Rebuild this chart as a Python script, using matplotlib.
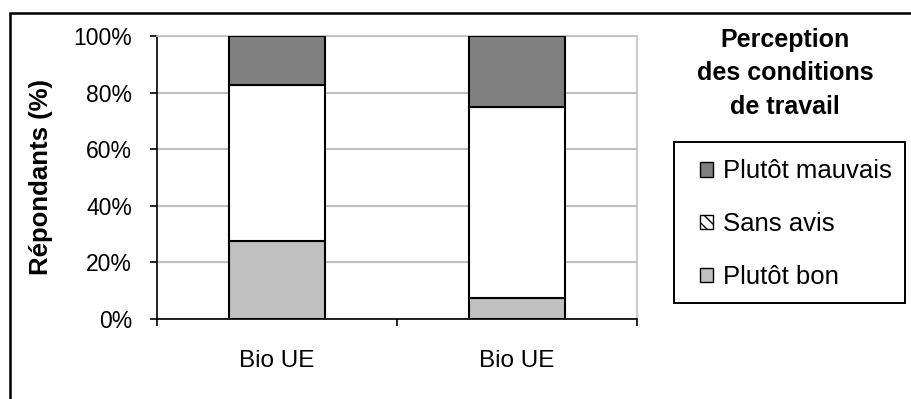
import matplotlib
matplotlib.use("Agg")
import matplotlib.pyplot as plt
from matplotlib.patches import Patch, Rectangle
import numpy as np

plt.rcParams['font.family'] = ['Liberation Sans', 'DejaVu Sans']

categories = ["Bio UE", "Bio UE"]
series_names = ["Plutôt bon", "Sans avis", "Plutôt mauvais"]
plutot_bon = [27.5, 7.5]
sans_avis = [55.3, 67.4]
plutot_mauvais = [17.2, 25.1]
series = [plutot_bon, sans_avis, plutot_mauvais]
colors = ["#c0c0c0", "#ffffff", "#808080"]
yticks = [0, 20, 40, 60, 80, 100]
ytick_labels = ["0%", "20%", "40%", "60%", "80%", "100%"]

W, H = 911, 399
fig = plt.figure(figsize=(W / 100, H / 100), dpi=100)
ax = fig.add_axes([157 / W, 1 - 319 / H, (637 - 157) / W, (319 - 36) / H])

x = np.arange(len(categories))
bottom = np.zeros(len(categories))
for vals, c in zip(series, colors):
    ax.bar(x, vals, bottom=bottom, width=0.4, color=c, edgecolor="black",
           linewidth=1.5, zorder=3)
    bottom += np.array(vals)

ax.set_xlim(-0.5, 1.5)
ax.set_ylim(0, 100)
ax.set_yticks(yticks)
ax.set_yticklabels(ytick_labels, fontsize=16.5)
ax.set_xticks([-0.5, 0.5, 1.5], minor=False)
ax.set_xticklabels([])
ax.set_xticks(x, minor=True)
ax.set_xticklabels(categories, minor=True, fontsize=17.5)
ax.tick_params(axis="x", which="minor", length=0, pad=22)
ax.tick_params(axis="x", which="major", length=5, width=1.2, direction="out", color="black")
ax.tick_params(axis="y", length=5, width=1.2, direction="out", pad=13)
ax.yaxis.grid(True, color="#c0c0c0", linewidth=1.5, zorder=0)
ax.set_axisbelow(True)
for s in ["top", "right"]:
    ax.spines[s].set_color("#c0c0c0")
    ax.spines[s].set_linewidth(1.2)
for s in ["left", "bottom"]:
    ax.spines[s].set_color("black")
    ax.spines[s].set_linewidth(1.2)

fig.text(41 / W, 1 - 177 / H, "Répondants (%)", rotation=90, ha="center", va="center",
         fontsize=18.5, fontweight="bold")

fig.text(785 / W, 1 - 73 / H, "Perception\ndes conditions\nde travail", ha="center",
         va="center", fontsize=18, fontweight="bold", linespacing=1.5)

handles = [
    Patch(facecolor="#808080", edgecolor="black", label="Plutôt mauvais"),
    Patch(facecolor="white", edgecolor="black", hatch="\\\\\\", label="Sans avis"),
    Patch(facecolor="#c0c0c0", edgecolor="black", label="Plutôt bon"),
]
leg = fig.legend(handles=handles, loc="upper left",
                 bbox_to_anchor=(700 / W, 1 - 159.5 / H), bbox_transform=fig.transFigure,
                 fontsize=18.5, frameon=False,
                 handlelength=0.5, handleheight=0.5, handletextpad=0.39,
                 labelspacing=1.12, borderpad=0, borderaxespad=0)

fig.patches.append(Rectangle((674 / W, 1 - 303 / H), (905 - 674) / W, (303 - 141.5) / H,
                             transform=fig.transFigure, fill=False,
                             edgecolor="black", linewidth=1.4))

fig.patches.append(Rectangle((10 / W, -0.1), 1.1, (1 - 13 / H) + 0.1,
                             transform=fig.transFigure, fill=False,
                             edgecolor="black", linewidth=1.8))

fig.savefig("out.png", dpi=100)
